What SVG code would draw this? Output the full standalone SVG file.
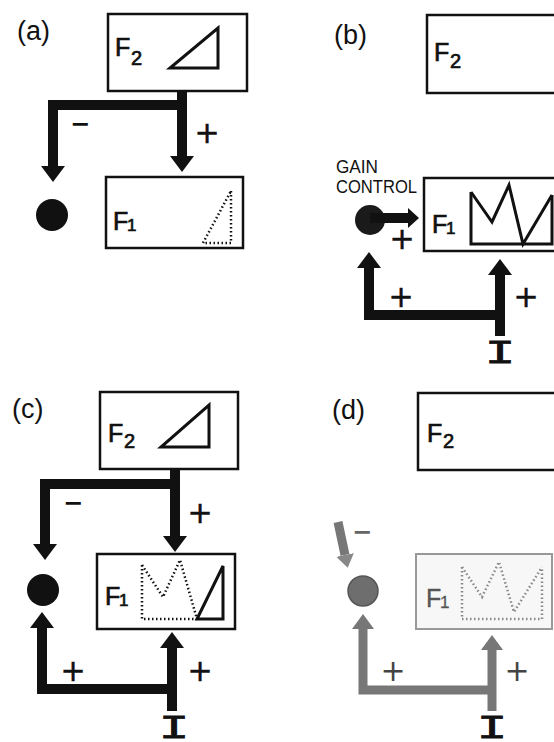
<svg xmlns="http://www.w3.org/2000/svg" width="554" height="742" viewBox="0 0 554 742">
<style>
.bg{fill:#fff}
.box{fill:#fff;stroke:#111;stroke-width:2.5}
.gbox{fill:#f7f7f7;stroke:#999;stroke-width:2}
.lbl{font-family:"Liberation Sans",Arial,sans-serif;font-size:25px;fill:#111;stroke:#111;stroke-width:0.7}
.sub{font-size:20px}
.sub1{font-size:17px}
.panel{font-family:"Liberation Sans",Arial,sans-serif;font-size:27px;fill:#111}
.gc{font-family:"Liberation Sans",Arial,sans-serif;font-size:19px;fill:#111}
.plus{font-family:"DejaVu Sans",sans-serif;font-size:30px;text-anchor:middle;fill:#111;stroke:#111;stroke-width:0.5}
.minus{font-family:"DejaVu Sans",sans-serif;font-weight:bold;font-size:24px;text-anchor:middle;fill:#111}
.inp{font-family:"Liberation Mono","Courier New",monospace;font-size:34px;text-anchor:middle;fill:#111;stroke:#111;stroke-width:0.8}
.conn{fill:none;stroke:#111;stroke-width:10;stroke-linejoin:miter;stroke-linecap:butt}
.gconn{fill:none;stroke:#777;stroke-width:9;stroke-linejoin:miter;stroke-linecap:butt}
.tri{fill:none;stroke:#111;stroke-width:3;stroke-linejoin:miter}
.dot{fill:none;stroke:#111;stroke-width:2.5;stroke-dasharray:1.5 2.5}
.gdot{fill:none;stroke:#888;stroke-width:2.5;stroke-dasharray:1.5 2.5}
</style>
<defs>
<marker id="ah" markerUnits="userSpaceOnUse" markerWidth="16" markerHeight="24" viewBox="0 0 16 24" refX="0" refY="12" orient="auto">
<path d="M0,0 L16,12 L0,24 Z" fill="#111"/>
</marker>
<marker id="ahs" markerUnits="userSpaceOnUse" markerWidth="11" markerHeight="20" viewBox="0 0 11 20" refX="0" refY="10" orient="auto">
<path d="M0,0 L11,10 L0,20 Z" fill="#111"/>
</marker>
<marker id="ahg" markerUnits="userSpaceOnUse" markerWidth="15" markerHeight="22" viewBox="0 0 15 22" refX="0" refY="11" orient="auto">
<path d="M0,0 L15,11 L0,22 Z" fill="#777"/>
</marker>
<marker id="ahgs" markerUnits="userSpaceOnUse" markerWidth="13" markerHeight="18" viewBox="0 0 13 18" refX="0" refY="9" orient="auto">
<path d="M0,0 L13,9 L0,18 Z" fill="#888"/>
</marker>
</defs>
<rect class="bg" x="0" y="0" width="554" height="742"/>

<!-- panel labels -->
<g id="panel-labels">
<text class="panel" x="17" y="40">(a)</text>
<text class="panel" x="334" y="44">(b)</text>
<text class="panel" x="12" y="418">(c)</text>
<text class="panel" x="332" y="419">(d)</text>
</g>

<!-- ===== (a) ===== -->
<g id="a-F2">
<rect class="box" x="108" y="14" width="139" height="77"/>
<text class="lbl" x="115" y="56">F<tspan class="sub" x="131" y="65">2</tspan></text>
<polygon class="tri" points="218,28 218,68 170,68"/>
</g>
<g id="a-F1">
<rect class="box" x="106" y="177" width="137" height="71"/>
<text class="lbl" x="113" y="230">F<tspan class="sub1" x="127" y="231">1</tspan></text>
<polygon class="dot" points="231,191 231,243 203,243"/>
</g>
<g id="a-gain">
<circle cx="52" cy="215" r="16" fill="#111"/>
</g>

<!-- ===== (b) ===== -->
<g id="b-F2">
<rect class="box" x="427" y="15" width="140" height="78"/>
<text class="lbl" x="434" y="61">F<tspan class="sub" x="450" y="68">2</tspan></text>
</g>
<g id="b-F1">
<rect class="box" x="424" y="178" width="140" height="73"/>
<text class="lbl" x="432" y="233">F<tspan class="sub1" x="446" y="234">1</tspan></text>
<polyline class="tri" points="471,192 471,244 552,244 552,195"/>
<polyline class="tri" points="471,192 492,222 509,185 523,244 552,195"/>
</g>
<g id="b-gain">
<text class="gc" x="336" y="173" textLength="42" lengthAdjust="spacingAndGlyphs">GAIN</text>
<text class="gc" x="336" y="193" textLength="81" lengthAdjust="spacingAndGlyphs">CONTROL</text>
<circle cx="370" cy="220" r="15" fill="#1a1a1a"/>
</g>
<g id="b-input">
<text class="inp" transform="translate(500,363) scale(1.5,1)" x="0" y="0">I</text>
</g>

<!-- ===== (c) ===== -->
<g id="c-F2">
<rect class="box" x="100" y="392" width="138" height="77"/>
<text class="lbl" x="108" y="442">F<tspan class="sub" x="124" y="448">2</tspan></text>
<polygon class="tri" points="209,405 209,447 161,447"/>
</g>
<g id="c-F1">
<rect class="box" x="97" y="554" width="138" height="75"/>
<text class="lbl" x="105" y="605">F<tspan class="sub1" x="119" y="606">1</tspan></text>
<polyline class="dot" points="142,565 142,619 197,619"/>
<polyline class="dot" points="142,565 163,597 180,560 197,619"/>
<polygon class="tri" points="197,619 223,566 223,619"/>
</g>
<g id="c-gain">
<circle cx="43" cy="590" r="16" fill="#111"/>
</g>
<g id="c-input">
<text class="inp" transform="translate(174,738) scale(1.5,1)" x="0" y="0">I</text>
</g>

<!-- ===== (d) ===== -->
<g id="d-F2">
<rect class="box" x="418" y="393" width="150" height="77"/>
<text class="lbl" x="427" y="442">F<tspan class="sub" x="443" y="448">2</tspan></text>
</g>
<g id="d-F1">
<rect class="gbox" x="416" y="554" width="136" height="75"/>
<text class="lbl" x="426" y="607" style="fill:#555;stroke:#555;stroke-width:0.3">F<tspan class="sub1" x="440" y="608">1</tspan></text>
<polyline class="gdot" points="462,567 462,619 542,619 542,567"/>
<polyline class="gdot" points="462,567 482,597 499,562 514,612 542,567"/>
</g>
<g id="d-gain">
<circle cx="363" cy="591" r="15" fill="#6e6e6e" stroke="#555" stroke-width="1.5"/>
</g>
<g id="d-input">
<text class="inp" transform="translate(492,738) scale(1.5,1)" x="0" y="0">I</text>
</g>

<!-- ===== connectors ===== -->
<g id="connectors">
<!-- (a) -->
<path class="conn" d="M182,90 V156" marker-end="url(#ah)"/>
<path class="conn" d="M182,105 H53 V166" marker-end="url(#ah)"/>
<text class="minus" x="80" y="132">−</text>
<text class="plus" x="207" y="143">+</text>
<!-- (b) -->
<path class="conn" d="M370,218 H408" stroke-width="9" marker-end="url(#ahs)"/>
<text class="plus" x="402" y="249">+</text>
<path class="conn" d="M500,336 V275" marker-end="url(#ah)"/>
<path class="conn" d="M500,315 H369 V268" marker-end="url(#ah)"/>
<text class="plus" x="401" y="307">+</text>
<text class="plus" x="526" y="307">+</text>
<!-- (c) -->
<path class="conn" d="M175,469 V536" marker-end="url(#ah)"/>
<path class="conn" d="M175,484 H45 V544" marker-end="url(#ah)"/>
<text class="minus" x="73" y="511">−</text>
<text class="plus" x="200" y="523">+</text>
<path class="conn" d="M172,711 V648" marker-end="url(#ah)"/>
<path class="conn" d="M172,689 H42 V628" marker-end="url(#ah)"/>
<text class="plus" x="73" y="681">+</text>
<text class="plus" x="200" y="681">+</text>
<!-- (d) -->
<path class="gconn" d="M338,522 L345,555" stroke="#888" stroke-width="8" marker-end="url(#ahgs)"/>
<text class="minus" x="362" y="540" style="fill:#666">−</text>
<path class="gconn" d="M492,711 V650" marker-end="url(#ahg)"/>
<path class="gconn" d="M492,690 H363 V629" marker-end="url(#ahg)"/>
<text class="plus" x="393" y="681" style="fill:#444;stroke:none">+</text>
<text class="plus" x="517" y="681" style="fill:#444;stroke:none">+</text>
</g>
</svg>
